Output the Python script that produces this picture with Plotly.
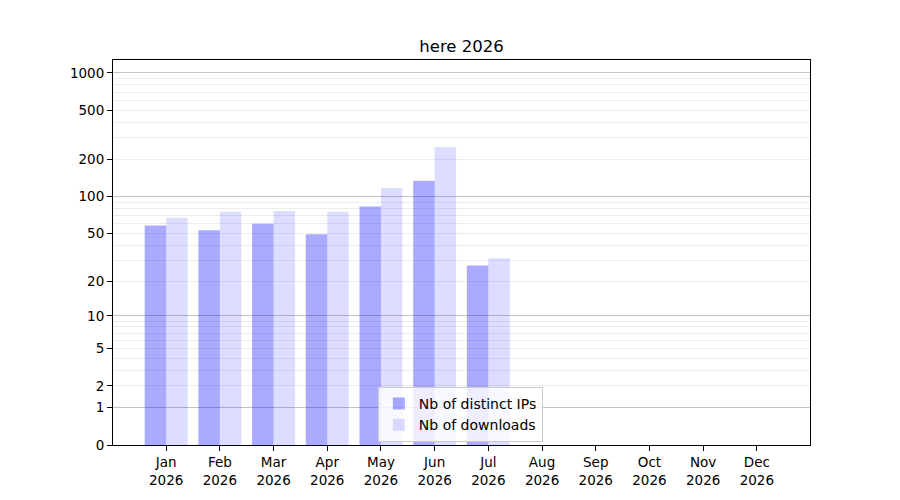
import numpy as np
import plotly.graph_objects as go

months = ["Jan", "Feb", "Mar", "Apr", "May", "Jun", "Jul", "Aug", "Sep", "Oct", "Nov", "Dec"]
year = "2026"
distinct_ips = [58, 53, 60, 49, 83, 134, 27, 0, 0, 0, 0, 0]
downloads = [67, 75, 76, 75, 117, 252, 31, 0, 0, 0, 0, 0]
y_ticks = [0, 1, 2, 5, 10, 20, 50, 100, 200, 500, 1000]
major_grid = [1, 10, 100, 1000]
minor_grid = [m * 10 ** k for k in range(3) for m in range(2, 10)]


def tr(v):
    # axe "log(1+x)" comme sur l'original
    return np.log10(1 + np.asarray(v, dtype=float))


x = list(range(len(months)))
labels = [m + "<br>" + year for m in months]
font = dict(family="DejaVu Sans", size=13.5, color="black")

fig = go.Figure()
fig.add_trace(go.Bar(x=x, y=tr(distinct_ips), name="Nb of distinct IPs",
                     marker=dict(color="rgba(0,0,255,0.333)", line=dict(width=0))))
fig.add_trace(go.Bar(x=x, y=tr(downloads), name="Nb of downloads",
                     marker=dict(color="rgba(0,0,255,0.133)", line=dict(width=0))))
# trace vide pour que l'axe y2 (grille principale) soit dessiné
fig.add_trace(go.Scatter(x=[None], y=[None], yaxis="y2", showlegend=False, hoverinfo="skip"))

yr = [0, 3.105]
# marges décalées de 8px (marge du body de la page)
fig.update_layout(
    width=900, height=500,
    margin=dict(l=105, r=98, t=52, b=63),
    paper_bgcolor="white", plot_bgcolor="white",
    font=font,
    title=dict(text="here 2026", x=(105 + 802) / 2 / 900, xanchor="center",
               y=1 - 38 / 500, yanchor="middle", font=dict(size=16.5)),
    barmode="group", bargap=0.2, bargroupgap=0,
    showlegend=True,
    legend=dict(x=0.38, y=0.008, xanchor="left", yanchor="bottom",
                bgcolor="rgba(255,255,255,0.8)", bordercolor="#cccccc", borderwidth=1,
                font=dict(family="DejaVu Sans", size=14, color="black"),
                itemsizing="constant", tracegroupgap=0),
    xaxis=dict(range=[-0.99, 11.99], tickvals=x, ticktext=labels,
               showline=True, mirror=True, linecolor="black", linewidth=1,
               ticks="outside", ticklen=5, tickcolor="black", showgrid=False, zeroline=False),
    yaxis=dict(range=yr, tickvals=tr(y_ticks), ticktext=[str(v) for v in y_ticks],
               showline=True, mirror=True, linecolor="black", linewidth=1,
               ticks="outside", ticklen=5, tickcolor="black", showgrid=False, zeroline=False,
               minor=dict(tickvals=tr(minor_grid), showgrid=True, gridcolor="#ededed",
                          gridwidth=1, ticks="")),
    yaxis2=dict(range=yr, overlaying="y", tickvals=tr(major_grid), showticklabels=False,
                showgrid=True, gridcolor="#c4c4c4", gridwidth=1, ticks="", zeroline=False),
)

fig.write_html("out.html")
